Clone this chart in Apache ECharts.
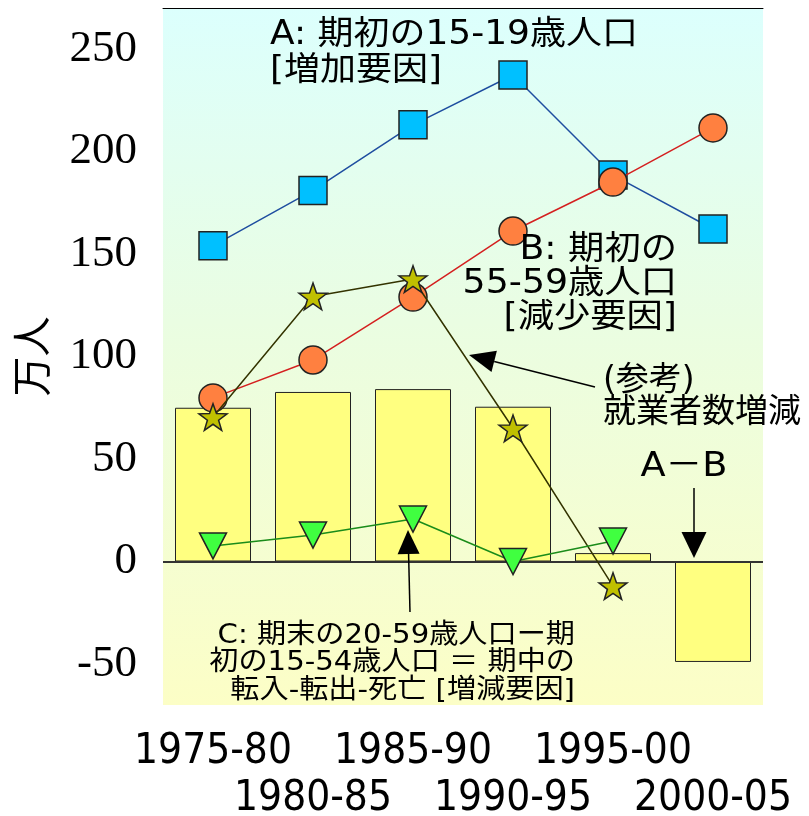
<!DOCTYPE html>
<html>
<head>
<meta charset="utf-8">
<script src="https://cdn.jsdelivr.net/npm/echarts@6/dist/echarts.min.js"></script>
<style>
html,body{margin:0;padding:0;background:#fff;}
#chart{width:809px;height:816px;}
</style>
</head>
<body>
<div id="chart"></div>
<script>
// ---- data ----
const categories = ['1975-80', '1980-85', '1985-90', '1990-95', '1995-00', '2000-05'];
const barAminusB = [75, 82.7, 84.1, 75.5, 4.1, -49];            // A−B (bars)
const seriesA = [154, 181, 213, 237.3, 188.5, 162.2];            // A: 期初の15-19歳人口
const seriesB = [79.8, 98.3, 129, 161.2, 185.1, 211.5];          // B: 期初の55-59歳人口
const seriesEmployment = [70.5, 129.3, 137.8, 65, -12, null];    // (参考) 就業者数増減
const seriesC = [7.6, 12.9, 20.7, 0, 10, null];                  // C
const yTickValues = [-50, 0, 50, 100, 150, 200, 250];

const starPath = 'path://M50,0 L61.76,33.82 L97.55,34.55 L69.02,56.18 L79.39,90.45 L50,70 L20.61,90.45 L30.98,56.18 L2.45,34.55 L38.24,33.82 Z';

const chart = echarts.init(document.getElementById('chart'), null, {renderer: 'canvas'});

const jpFont = "'DejaVu Sans', 'Noto Sans CJK JP', sans-serif";

function arrow(x1, y1, x2, y2, len, w) {
  const dx = x2 - x1, dy = y2 - y1;
  const d = Math.sqrt(dx * dx + dy * dy);
  const ux = dx / d, uy = dy / d;
  const bx = x2 - ux * len, by = y2 - uy * len;
  const px = -uy * w / 2, py = ux * w / 2;
  return [
    {type: 'line', shape: {x1: x1, y1: y1, x2: bx, y2: by}, style: {stroke: '#000', lineWidth: 1.5}, z: 100},
    {type: 'polygon', shape: {points: [[x2, y2], [bx + px, by + py], [bx - px, by - py]]}, style: {fill: '#000'}, z: 100}
  ];
}

const graphics = [
  {type: 'text', x: 270, y: 17, scaleX: 1.09, z: 100, style: {text: 'A: 期初の15-19歳人口\n[増加要因]', font: '33px ' + jpFont, fill: '#000', align: 'left', verticalAlign: 'top', lineHeight: 36}},
  {type: 'text', x: 677, y: 233, scaleX: 1.1, z: 100, style: {text: 'B: 期初の\n55-59歳人口\n[減少要因]', font: '33px ' + jpFont, fill: '#000', align: 'right', verticalAlign: 'top', lineHeight: 34}},
  {type: 'text', x: 603, y: 365, z: 100, style: {text: '(参考)\n就業者数増減', font: '33px ' + jpFont, fill: '#000', align: 'left', verticalAlign: 'top', lineHeight: 32}},
  {type: 'text', x: 684, y: 467, scaleX: 1.08, z: 100, style: {text: 'A－B', font: '34px ' + jpFont, fill: '#000', align: 'center', verticalAlign: 'middle'}},
  {type: 'text', x: 575, y: 622, scaleX: 1.08, z: 100, style: {text: 'C: 期末の20-59歳人口ー期\n初の15-54歳人口 ＝ 期中の\n転入-転出-死亡 [増減要因]', font: '27px ' + jpFont, fill: '#000', align: 'right', verticalAlign: 'top', lineHeight: 27.5}}
].concat(arrow(595, 387, 469, 355, 26, 22))
 .concat(arrow(694, 488, 694, 558, 26, 25))
 .concat(arrow(410, 612, 408, 530, 24, 22));

const option = {
  animation: false,
  backgroundColor: '#fff',
  grid: {
    left: 163, top: 8, width: 600, height: 697, show: true, borderWidth: 0,
    containLabel: false, outerBoundsMode: 'none',
    backgroundColor: new echarts.graphic.LinearGradient(0, 0, 0, 1, [
      {offset: 0, color: '#dcfffd'},
      {offset: 0.45, color: '#eafde2'},
      {offset: 1, color: '#fcfec6'}
    ])
  },
  xAxis: [
    {
      type: 'category', data: categories, position: 'bottom',
      axisLine: {show: false, onZero: false}, axisTick: {show: false}, splitLine: {show: false},
      axisLabel: {
        interval: 0, margin: 24, color: '#000', fontSize: 42, lineHeight: 47,
        fontFamily: "'DejaVu Sans Condensed', 'Liberation Sans Narrow', sans-serif",
        formatter: function (v, i) { return i % 2 ? '\n' + v : v; }
      }
    },
    {
      type: 'category', data: categories, position: 'top',
      axisLine: {show: true, onZero: false, lineStyle: {color: '#000', width: 1}},
      axisTick: {show: false}, axisLabel: {show: false}, splitLine: {show: false}
    }
  ],
  yAxis: {
    type: 'value', min: -70, max: 270, interval: 10,
    axisLine: {show: false}, axisTick: {show: false}, splitLine: {show: false},
    axisLabel: {
      margin: 26, color: '#000', fontSize: 45, fontFamily: "'Liberation Serif', serif",
      padding: [6, 0, 0, 0],
      formatter: function (v) { return yTickValues.indexOf(v) >= 0 ? String(v) : ''; }
    },
    name: '万人', nameLocation: 'middle', nameRotate: 90, nameGap: 112,
    nameTextStyle: {fontFamily: "'Noto Sans CJK JP', sans-serif", fontSize: 40, color: '#000'}
  },
  series: [
    {
      type: 'bar', data: barAminusB, barWidth: 76, z: 2,
      itemStyle: {color: '#ffff80', borderColor: '#222', borderWidth: 1},
      markLine: {
        silent: true, symbol: 'none', label: {show: false},
        lineStyle: {color: '#333', width: 2, type: 'solid'},
        data: [{yAxis: 0}]
      }
    },
    {
      type: 'line', data: seriesA, symbol: 'rect', symbolSize: 28, z: 3,
      lineStyle: {color: '#1f4ea0', width: 1.5},
      itemStyle: {color: '#00c0ff', borderColor: '#222', borderWidth: 1.5}
    },
    {
      type: 'line', data: seriesB, symbol: 'circle', symbolSize: 28, z: 4,
      lineStyle: {color: '#d42020', width: 1.5},
      itemStyle: {color: '#ff8040', borderColor: '#222', borderWidth: 1.5}
    },
    {
      type: 'line', data: seriesEmployment, symbol: starPath, symbolSize: 28, symbolKeepAspect: true, z: 5,
      lineStyle: {color: '#333300', width: 1.5},
      itemStyle: {color: '#c0c000', borderColor: '#222', borderWidth: 1.5}
    },
    {
      type: 'line', data: seriesC, symbol: 'triangle', symbolRotate: 180, symbolSize: [27, 26], z: 6,
      lineStyle: {color: '#1a8c1a', width: 1.5},
      itemStyle: {color: '#40ff40', borderColor: '#222', borderWidth: 1.5}
    }
  ],
  graphic: graphics
};

chart.setOption(option);
</script>
</body>
</html>
